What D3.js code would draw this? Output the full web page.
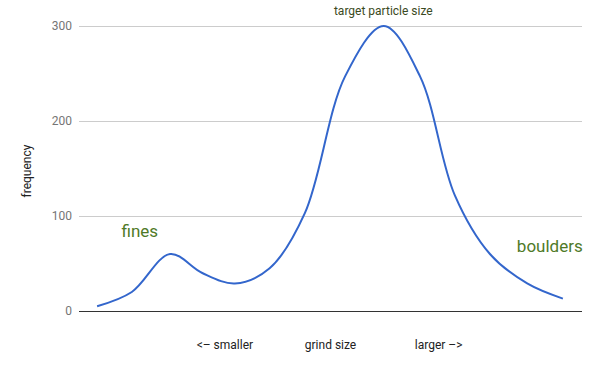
<!DOCTYPE html>
<html>
<head>
<meta charset="utf-8">
<script src="https://cdn.jsdelivr.net/npm/d3@7"></script>
<style>
  html, body { margin: 0; padding: 0; background: #fff; }
  svg { display: block; font-family: Roboto, Arial, sans-serif; }
</style>
</head>
<body>
<svg id="chart" width="600" height="371"></svg>
<script>
// grind size (arbitrary units) and particle frequency
const grindSize = [3.6, 10.5, 18.1, 24.5, 31.0, 37.9, 44.9, 52.9, 60.6, 67.8, 74.7, 81.7, 89.1, 96.2];
const frequency = [5, 20, 60, 40, 29, 45, 103, 247, 300, 247, 122, 60, 29, 13];
const yTicks = [0, 100, 200, 300];
const xLabels = ["<– smaller", "grind size", "larger –>"];
const xLabelPos = [29, 50, 71.5];
const annotations = [
  { text: "fines", x: 12.1, y: 78, size: 17, color: "#4f7a28" },
  { text: "boulders", x: 93.6, y: 62, size: 17, color: "#4f7a28" },
  { text: "target particle size", x: 60.5, y: 312, size: 12, color: "#3b4a22" }
];

(function () {
const svg = d3.select("#chart");
const mLeft = 79, mRight = 582, mTop = 26, mBottom = 311;
const x = d3.scaleLinear().domain([0, 100]).range([mLeft, mRight]);
const y = d3.scaleLinear().domain([0, 300]).range([mBottom, mTop]);

// gridlines
svg.append("g").selectAll("line").data(yTicks.filter(d => d > 0)).join("line")
  .attr("x1", mLeft).attr("x2", mRight)
  .attr("y1", d => y(d)).attr("y2", d => y(d))
  .attr("stroke", "#cccccc").attr("stroke-width", 1).attr("shape-rendering", "crispEdges");

// y axis labels
const yAxis = d3.axisLeft(y).tickValues(yTicks).tickSize(0).tickPadding(7);
const ya = svg.append("g").attr("transform", `translate(${mLeft},0)`).call(yAxis);
ya.select(".domain").remove();
ya.selectAll("text").attr("fill", "#757575").attr("font-size", 12)
  .attr("font-family", "Roboto, Arial, sans-serif");

// baseline
svg.append("line").attr("x1", mLeft).attr("x2", mRight)
  .attr("y1", y(0)).attr("y2", y(0))
  .attr("stroke", "#333").attr("stroke-width", 1).attr("shape-rendering", "crispEdges");

// y title
svg.append("text").attr("transform", `translate(31,171) rotate(-90)`)
  .attr("text-anchor", "middle").attr("font-size", 12).attr("fill", "#222")
  .text("frequency");

// x labels
svg.append("g").selectAll("text").data(xLabels).join("text")
  .attr("x", (d, i) => x(xLabelPos[i])).attr("y", 349)
  .attr("text-anchor", "middle").attr("font-size", 12).attr("fill", "#222")
  .text(d => d);

// line
const line = d3.line()
  .x((d, i) => x(grindSize[i]))
  .y(d => y(d))
  .curve(d3.curveCatmullRom.alpha(0.5));
svg.append("path").datum(frequency)
  .attr("d", line).attr("fill", "none")
  .attr("stroke", "#3366cc").attr("stroke-width", 2);

// annotations
svg.append("g").selectAll("text").data(annotations).join("text")
  .attr("x", d => x(d.x)).attr("y", d => y(d.y))
  .attr("text-anchor", "middle").attr("font-size", d => d.size).attr("fill", d => d.color)
  .text(d => d.text);
})();
</script>
</body>
</html>
